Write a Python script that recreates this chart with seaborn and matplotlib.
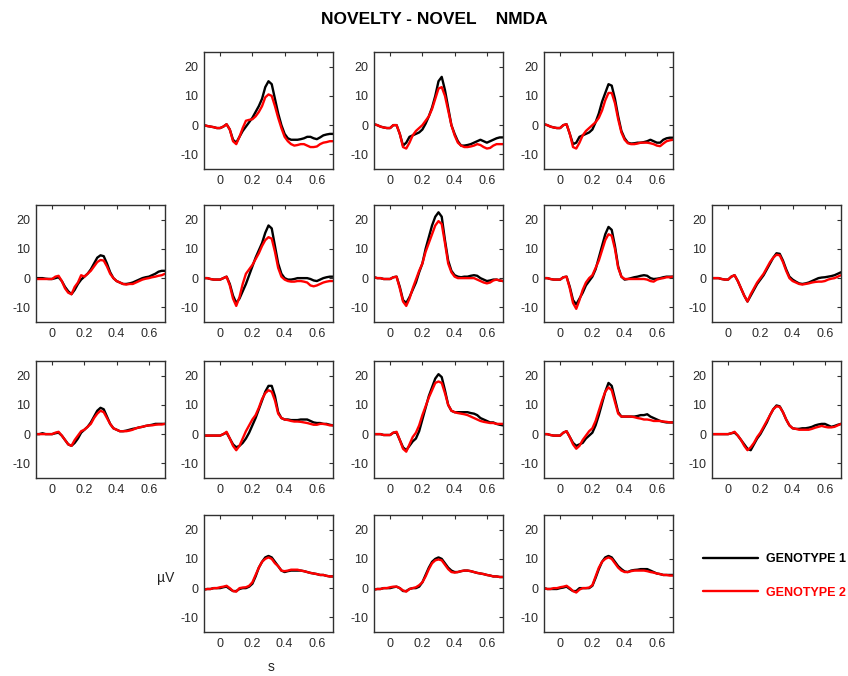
import numpy as np
import pandas as pd
import matplotlib
matplotlib.use("Agg")
import matplotlib.pyplot as plt
from matplotlib.lines import Line2D
import seaborn as sns

# Sampling grid of the averaged evoked potentials (seconds)
time_s = np.round(np.arange(-0.10, 0.7001, 0.02), 2)

# Averaged responses (µV), one pair of traces per electrode site
g1_r1c2 = [0, -0.3, -0.5, -0.7, -1, -1, -0.5, 0.3, -1.5, -5, -6, -4, -2, -0.5, 1, 2.5, 4.5, 6.5, 9, 13, 15, 14, 9, 4, 0, -3, -4.5, -5, -5, -5, -4.8, -4.5, -4, -4, -4.5, -4.8, -4.2, -3.5, -3.2, -3, -3]
g2_r1c2 = [0, -0.3, -0.5, -0.7, -1, -1, -0.5, 0.3, -1.5, -5.5, -6.5, -4, -1, 1.5, 1.8, 2, 3, 4.5, 6.5, 9.5, 10.5, 10, 6.5, 2.5, -1, -4, -5.5, -6.5, -7, -6.8, -6.5, -6.5, -7, -7.5, -7.5, -7.3, -6.5, -6, -5.8, -5.5, -5.5]

g1_r1c3 = [0.3, 0, -0.5, -0.8, -1, -1, 0, 0, -3, -7, -6, -4, -3.5, -3, -2.5, -1.5, 0.5, 3, 6, 10, 15, 16.5, 12, 6, 0, -3, -5.5, -7, -7, -6.8, -6.5, -6, -5.5, -5, -5.5, -6, -5.5, -5, -4.5, -4.2, -4.2]
g2_r1c3 = [0.3, 0, -0.5, -0.8, -1, -1, 0, 0, -3, -7.5, -8, -6, -3.5, -2, -1, 0, 1.5, 3, 5.5, 9, 12.5, 13, 10, 5, 0, -3.5, -6, -7, -7.5, -7.5, -7.3, -7, -6.5, -6.8, -7.5, -8, -7.8, -7, -6.5, -6.5, -6.5]

g1_r1c4 = [0.3, 0, -0.5, -0.8, -1, -1, 0, 0.3, -3, -6.5, -6, -4, -3.5, -3, -2.5, -1.5, 1, 4, 8, 11, 14, 13.5, 9, 3, -2, -4.5, -6, -6.3, -6.2, -6, -6, -5.8, -5.5, -5, -5.5, -6, -6, -5, -4.5, -4.3, -4.3]
g2_r1c4 = [0.3, 0, -0.5, -0.8, -1, -1, 0, 0.3, -3, -7.5, -8, -6, -3.5, -2, -1, 0, 1, 2.5, 5, 8.5, 11, 11, 7.5, 2, -2.5, -5, -6.2, -6.5, -6.5, -6.3, -6, -6, -6, -6.2, -6.5, -7, -7.2, -6.3, -5.5, -5.2, -5]

g1_r2c1 = [0, 0, 0, -0.2, -0.3, -0.3, 0, 0.3, -1, -3, -4.5, -5.5, -4, -2, -0.5, 0.5, 1.5, 3, 5, 7, 7.8, 7.5, 5, 2, 0, -1, -1.5, -2, -2, -1.8, -1.5, -1, -0.5, 0, 0.3, 0.5, 1, 1.5, 2.2, 2.5, 2.5]
g2_r2c1 = [-0.3, -0.3, -0.3, -0.3, -0.3, -0.3, 0.5, 0.8, -1, -3.5, -5, -5.5, -3, -1.5, 1, 0.5, 1.5, 2.5, 4, 5.5, 6.2, 6, 4, 1.5, 0, -1, -1.5, -2, -2.2, -2, -2, -1.5, -1, -0.5, -0.2, 0, 0.3, 0.5, 0.8, 1, 1.5]

g1_r2c2 = [0, 0, -0.3, -0.5, -0.5, -0.5, 0, 0.5, -2, -6, -8.5, -7, -4.5, -2, 1, 4, 7, 9.5, 12, 15.5, 18, 17, 11, 5, 1.5, 0, -0.5, -0.5, -0.3, 0, 0, 0, 0, -0.3, -0.8, -1, -0.5, 0, 0.3, 0.5, 0.5]
g2_r2c2 = [0, 0, -0.3, -0.5, -0.5, -0.5, 0, 0.5, -2.5, -7, -9.5, -6.5, -2, 1.5, 3, 4.5, 6.5, 8.5, 11, 13, 14, 13.5, 9, 3.5, 0.5, -0.5, -1, -1.2, -1.2, -1, -1, -1.2, -1.5, -2.5, -2.8, -2.5, -2, -1.5, -1.2, -1, -1]

g1_r2c3 = [0.3, 0, 0, -0.3, -0.3, -0.3, 0.3, 0.5, -3, -7.5, -8.5, -6.5, -4, -1.5, 2, 5, 10, 14, 18, 21, 22.5, 21, 13, 6, 2.5, 1, 0.5, 0.3, 0.5, 0.5, 0.8, 1, 0.8, 0, -0.5, -1, -0.8, -0.5, -0.5, -0.8, -1]
g2_r2c3 = [0.3, 0, 0, -0.3, -0.3, -0.3, 0.3, 0.5, -3.5, -8, -9.5, -7, -3.5, -0.5, 2.5, 5, 9, 12, 15, 18, 19.5, 18.5, 12, 5, 2, 0.5, 0, 0, 0, 0, 0, 0, -0.5, -1, -1.5, -1.8, -1.5, -0.8, -0.5, -0.8, -1]

g1_r2c4 = [0, 0, -0.3, -0.5, -0.5, -0.5, 0.3, 0.5, -3, -7.5, -9, -7, -5, -2.5, -1, 0.5, 3, 7, 11, 15, 17.5, 16.5, 11, 4, 0.5, -0.5, -0.3, 0, 0.3, 0.5, 0.8, 1, 0.8, 0, -0.3, -0.2, 0, 0.3, 0.5, 0.5, 0.5]
g2_r2c4 = [0, 0, -0.3, -0.5, -0.5, -0.5, 0.3, 0.5, -3.5, -8.5, -10.5, -7.5, -4, -1.5, 0, 1, 3.5, 6, 9.5, 13, 15, 14.5, 10, 3.5, 0.5, -0.3, -0.3, -0.3, -0.3, -0.3, -0.3, -0.3, -0.5, -1, -1.2, -0.5, -0.2, 0, 0.3, 0.3, 0.5]

g1_r2c5 = [0, 0, 0, -0.3, -0.5, -0.5, 0.5, 1, -1, -3.5, -6, -8, -6, -4, -2, -0.5, 1, 3, 5, 7, 8.5, 8.3, 6, 3, 0.5, -0.5, -1.2, -1.8, -2, -1.8, -1.5, -1, -0.5, 0, 0.2, 0.3, 0.5, 0.7, 1, 1.5, 2]
g2_r2c5 = [0, 0, 0, -0.3, -0.5, -0.5, 0.5, 1, -1, -3.5, -6, -8, -5.5, -3.5, -1.5, 0, 1.5, 3.5, 5.5, 7, 8, 7.8, 5.5, 2.5, 0, -1, -1.5, -2, -2.2, -2, -1.8, -1.5, -1.3, -1.2, -1.2, -1, -0.5, -0.2, 0, 0.5, 1]

g1_r3c1 = [0, 0, 0.3, 0, 0, 0, 0.3, 0.5, -0.5, -2, -3.5, -4, -3, -1.5, 0.5, 1.5, 2.5, 4, 6, 8, 9, 8.5, 6, 3.5, 2, 1.5, 1, 1, 1.2, 1.5, 1.8, 2, 2.3, 2.5, 2.8, 3, 3.2, 3.5, 3.5, 3.5, 3.5]
g2_r3c1 = [0, 0, 0, 0, 0, 0, 0.5, 0.8, -0.5, -2, -3.5, -4, -2, -0.5, 1, 1.5, 2.5, 3.5, 5.5, 7, 8, 7.5, 5.5, 3.5, 2, 1.5, 1, 1, 1, 1.2, 1.5, 2, 2.3, 2.5, 2.8, 3, 3, 3.2, 3.3, 3.3, 3.5]

g1_r3c2 = [-0.5, -0.5, -0.5, -0.5, -0.5, -0.5, 0, 0.5, -1.5, -3.5, -4.5, -4, -3, -1.5, 0.5, 3, 5.5, 8.5, 11.5, 14.5, 16.5, 16.5, 13, 7.5, 5.5, 5, 5, 4.8, 4.8, 4.8, 5, 5, 5, 4.5, 4, 3.8, 3.8, 3.5, 3.5, 3.2, 3]
g2_r3c2 = [-0.5, -0.5, -0.5, -0.5, -0.5, -0.5, 0, 0.8, -1.5, -4, -5.5, -4, -1.5, 1, 3, 5, 6.5, 9, 12, 14, 15, 14.5, 11.5, 7, 5.5, 5, 4.8, 4.5, 4.3, 4.3, 4.2, 4, 3.8, 3.5, 3.2, 3.2, 3.5, 3.5, 3.3, 3, 3]

g1_r3c3 = [0, 0, 0, -0.3, -0.3, -0.3, 0.5, 0.5, -2, -4.5, -5.5, -4, -2.5, -1.5, 1, 5, 9, 13, 16, 19, 20.5, 19.5, 15, 10, 8, 7.5, 7.5, 7.5, 7.5, 7.5, 7.2, 7, 6.5, 5.5, 5, 4.5, 4, 4, 3.5, 3.2, 3]
g2_r3c3 = [0, 0, 0, -0.3, -0.3, -0.3, 0.5, 0.8, -2, -5, -6, -3.5, -1, 0.5, 3, 6.5, 9.5, 12.5, 15, 17.5, 18, 17.5, 14, 10, 8, 7.5, 7.2, 7, 6.8, 6.5, 6, 5.5, 5, 4.5, 4.2, 4, 3.8, 3.8, 3.5, 3.5, 3.5]

g1_r3c4 = [0, 0, -0.3, -0.5, -0.5, -0.5, 0.5, 1, -1, -3, -4, -3.5, -3, -1.5, -0.5, 0.5, 3, 6.5, 10.5, 14.5, 17.5, 16.5, 12, 7.5, 6, 6, 6, 6, 6, 6.2, 6.5, 6.5, 6.8, 6, 5.5, 5, 4.5, 4.2, 4, 4, 4]
g2_r3c4 = [0, 0, -0.3, -0.5, -0.5, -0.5, 0.5, 1, -1, -3.5, -5, -4, -2, -0.5, 1, 2, 4.5, 8, 11.5, 14.5, 16, 15, 11, 7, 6, 6, 6, 6, 5.8, 5.5, 5.3, 5, 5, 4.8, 4.5, 4.5, 4.5, 4.3, 4.2, 4, 4]

g1_r3c5 = [0, 0, 0, 0, 0, 0, 0.3, 0.5, -0.5, -2, -3.5, -5, -5.5, -3.5, -1.5, 0, 2, 4, 6.5, 8.5, 9.8, 9.5, 7.5, 5, 3, 2, 1.8, 1.8, 2, 2, 2.2, 2.5, 3, 3.3, 3.5, 3.5, 3, 2.5, 2.8, 3.2, 3.5]
g2_r3c5 = [0, 0, 0, 0, 0, 0, 0.3, 0.8, -0.5, -2, -4, -5.5, -4.5, -3, -1, 0.5, 2.5, 4.5, 6.5, 8.5, 9.5, 9.3, 7.5, 5, 3, 2, 1.8, 1.5, 1.5, 1.5, 1.5, 1.8, 2.2, 2.5, 2.8, 2.5, 2.3, 2.3, 2.5, 3, 3.5]

g1_r4c2 = [-0.5, -0.3, -0.3, 0, 0, 0, 0.3, 0.5, -0.3, -1, -1, -0.3, 0, 0, 0.5, 1.5, 4, 7, 9, 10.5, 11, 10.5, 9, 7.5, 6, 5.5, 5.8, 6, 6, 6, 6, 5.8, 5.5, 5.2, 5, 4.8, 4.5, 4.5, 4.2, 4, 4]
g2_r4c2 = [-0.5, -0.3, -0.3, 0, 0, 0.3, 0.5, 0.8, 0, -1, -1.2, 0, 0.2, 0.3, 0.8, 2, 4.5, 7, 9, 10, 10.5, 10, 8.5, 7.5, 6, 5.8, 6, 6.3, 6.3, 6.3, 6, 5.8, 5.5, 5.2, 5, 4.8, 4.5, 4.5, 4.2, 4, 4]

g1_r4c3 = [-0.5, -0.3, -0.3, 0, 0, 0, 0.3, 0.5, 0, -1, -1, -0.3, 0, 0, 0.5, 2, 4.5, 7, 9, 10, 10.5, 10, 8.5, 7, 6, 5.5, 5.5, 5.8, 6, 6, 5.8, 5.5, 5.2, 5, 4.8, 4.5, 4.3, 4, 4, 3.8, 3.8]
g2_r4c3 = [-0.5, -0.3, -0.3, 0, 0, 0.3, 0.5, 0.5, 0, -0.8, -1.2, -0.3, 0, 0.3, 1, 2, 4, 6.5, 8.5, 9.5, 9.8, 9.5, 8, 6.5, 5.5, 5.3, 5.5, 5.8, 6, 6, 5.8, 5.5, 5.2, 5, 4.8, 4.5, 4.3, 4, 4, 3.8, 3.8]

g1_r4c4 = [0, -0.3, -0.3, -0.3, -0.3, 0, 0.2, 0.5, -0.3, -1, -1, 0, 0, 0, 0, 0.8, 3.5, 6.5, 9, 10.5, 11, 10.5, 9, 7.5, 6.5, 5.7, 5.5, 6, 6.2, 6.3, 6.5, 6.5, 6.5, 6, 5.5, 5, 4.8, 4.5, 4.5, 4.5, 4.5]
g2_r4c4 = [0, -0.3, -0.3, 0, 0, 0.3, 0.5, 0.8, 0, -1, -1.5, -0.5, 0, 0, 0.2, 1, 4, 7, 9, 10, 10.5, 10, 8.5, 7, 6, 5.5, 5.5, 5.8, 6, 6, 6, 6, 5.8, 5.5, 5.3, 5, 4.8, 4.5, 4.5, 4.3, 4.3]

group_names = ["GENOTYPE 1", "GENOTYPE 2"]
group_colors = ["#000000", "#ff0000"]

# Scalp layout: (row, column) of each site in the montage grid
sites = [
    ((0, 1), g1_r1c2, g2_r1c2), ((0, 2), g1_r1c3, g2_r1c3), ((0, 3), g1_r1c4, g2_r1c4),
    ((1, 0), g1_r2c1, g2_r2c1), ((1, 1), g1_r2c2, g2_r2c2), ((1, 2), g1_r2c3, g2_r2c3),
    ((1, 3), g1_r2c4, g2_r2c4), ((1, 4), g1_r2c5, g2_r2c5),
    ((2, 0), g1_r3c1, g2_r3c1), ((2, 1), g1_r3c2, g2_r3c2), ((2, 2), g1_r3c3, g2_r3c3),
    ((2, 3), g1_r3c4, g2_r3c4), ((2, 4), g1_r3c5, g2_r3c5),
    ((3, 1), g1_r4c2, g2_r4c2), ((3, 2), g1_r4c3, g2_r4c3), ((3, 3), g1_r4c4, g2_r4c4),
]

sns.set_theme(style="white")
plt.rcParams["font.family"] = ["Liberation Sans", "DejaVu Sans"]
plt.rcParams["axes.unicode_minus"] = False

W, H = 848, 676
fig = plt.figure(figsize=(W / 100, H / 100), dpi=100)

col_left = [36, 204, 374, 544, 712]
row_top = [52, 205, 361, 515]
ax_w, ax_h = 129, 117
frame_col = "#303030"

axes_by_pos = {}
for (r, c), g1, g2 in sites:
    ax = fig.add_axes([col_left[c] / W, 1 - (row_top[r] + ax_h) / H, ax_w / W, ax_h / H])
    df = pd.DataFrame({
        "time": np.concatenate([time_s, time_s]),
        "amp": np.concatenate([g1, g2]),
        "group": [group_names[0]] * len(time_s) + [group_names[1]] * len(time_s),
    })
    sns.lineplot(data=df, x="time", y="amp", hue="group", palette=group_colors,
                 linewidth=1.7, ax=ax, legend=False, estimator=None, sort=False)
    ax.set_xlim(-0.1, 0.7)
    ax.set_ylim(-15, 25)
    ax.set_xticks([0, 0.2, 0.4, 0.6])
    ax.set_xticklabels(["0", "0.2", "0.4", "0.6"])
    ax.set_yticks([-10, 0, 10, 20])
    ax.set_xlabel("")
    ax.set_ylabel("")
    ax.tick_params(direction="in", top=True, right=True, length=3, width=0.8,
                   color=frame_col, labelcolor="#2a2a2a", labelsize=9, pad=4)
    for sp in ax.spines.values():
        sp.set_color(frame_col)
        sp.set_linewidth(1.0)
    ax.set_facecolor("white")
    axes_by_pos[(r, c)] = ax

# Axis unit labels on the lower-left site
lab_ax = axes_by_pos[(3, 1)]
lab_ax.set_ylabel("\u00b5V", rotation=0, fontsize=10, color="#222222")
lab_ax.yaxis.label.set_va("center")
lab_ax.yaxis.label.set_ha("center")
lab_ax.yaxis.set_label_coords((166 - 204) / ax_w, (632 - 578) / ax_h)
lab_ax.set_xlabel("s", fontsize=10, color="#222222")
lab_ax.xaxis.label.set_va("center")
lab_ax.xaxis.set_label_coords((271 - 204) / ax_w, (632 - 667) / ax_h)

fig.text(434 / W, 1 - 19 / H, "NOVELTY - NOVEL    NMDA", ha="center", va="center",
         fontsize=12.5, fontweight="bold", color="black")

handles = [Line2D([], [], color=col, lw=1.7) for col in group_colors]
leg = fig.legend(handles, group_names, loc="center left",
                 bbox_to_anchor=(703 / W, 1 - 576 / H), frameon=False,
                 borderpad=0, borderaxespad=0, handlelength=4.4, handletextpad=0.65,
                 labelspacing=1.7, prop={"weight": "bold", "size": 9})
for txt, col in zip(leg.get_texts(), group_colors):
    txt.set_color(col)

fig.savefig("out.png", dpi=100, facecolor="white")
